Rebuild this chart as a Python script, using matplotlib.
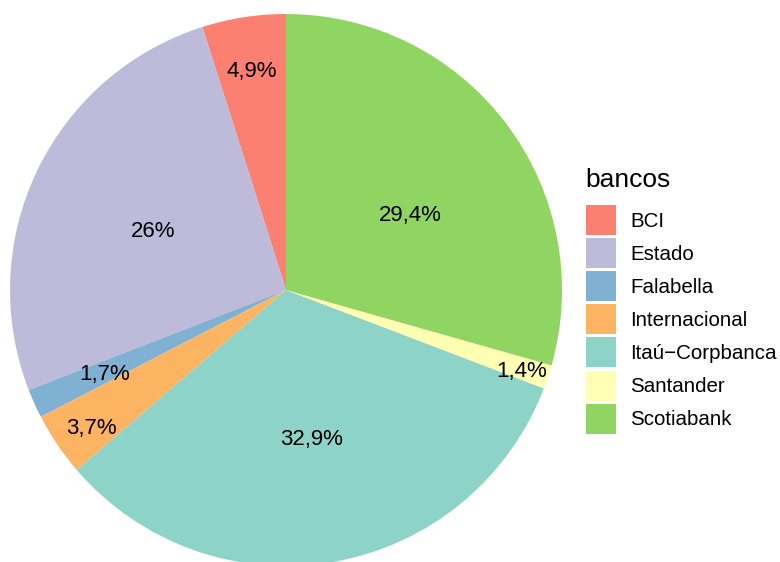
import numpy as np
import matplotlib
matplotlib.use('Agg')
import matplotlib.pyplot as plt
import matplotlib.patches as mpatches

plt.rcParams['font.family'] = ['Liberation Sans', 'DejaVu Sans']

# Données
bancos = ['BCI', 'Estado', 'Falabella', 'Internacional', 'Itaú\u2212Corpbanca', 'Santander', 'Scotiabank']
porcentajes = [4.9, 26.0, 1.7, 3.7, 32.9, 1.4, 29.4]
etiquetas = ['4,9%', '26%', '1,7%', '3,7%', '32,9%', '1,4%', '29,4%']
colores = ['#FB8072', '#BEBADA', '#80B1D3', '#FDB462', '#8DD3C7', '#FFFFB3', '#90D462']

# position des étiquettes (fraction du rayon, décalage d'angle en degrés)
label_r = [0.81, 0.53, 0.72, 0.86, 0.54, 0.90, 0.53]
label_da = [0, 1, 0, 1, 0, 0, -5]

W, H = 780, 562
fig = plt.figure(figsize=(W / 100, H / 100), dpi=100)
cx, cy, R = 286, 290, 276
ax = fig.add_axes([(cx - R) / W, (H - cy - R) / H, 2 * R / W, 2 * R / H])

ax.pie(porcentajes, colors=colores, startangle=90, counterclock=True,
       radius=1, wedgeprops={'linewidth': 0})
ax.set_xlim(-1, 1)
ax.set_ylim(-1, 1)
ax.axis('off')

# étiquettes au milieu de chaque part
cum = np.cumsum([0] + porcentajes)
for i, txt in enumerate(etiquetas):
    mid = (cum[i] + cum[i + 1]) / 2
    ang = np.deg2rad(90 + mid / 100 * 360 + label_da[i])
    ax.text(label_r[i] * np.cos(ang), label_r[i] * np.sin(ang) - 0.01, txt,
            ha='center', va='center', fontsize=16, color='black')

# légende (titre à part pour régler l'espacement)
fig.text(585 / W, 1 - 180 / H, 'bancos', ha='left', va='center', fontsize=19)
handles = [mpatches.Patch(facecolor=c, edgecolor='none', label=b)
           for b, c in zip(bancos, colores)]
leg = fig.legend(handles=handles, loc='upper left',
                 bbox_to_anchor=(586 / W, 1 - 205 / H), frameon=False,
                 fontsize=14.8, handlelength=1.46,
                 handleheight=1.87, labelspacing=0.15, handletextpad=0.68,
                 borderaxespad=0, borderpad=0)

fig.savefig('out.png', dpi=100, facecolor='white')
